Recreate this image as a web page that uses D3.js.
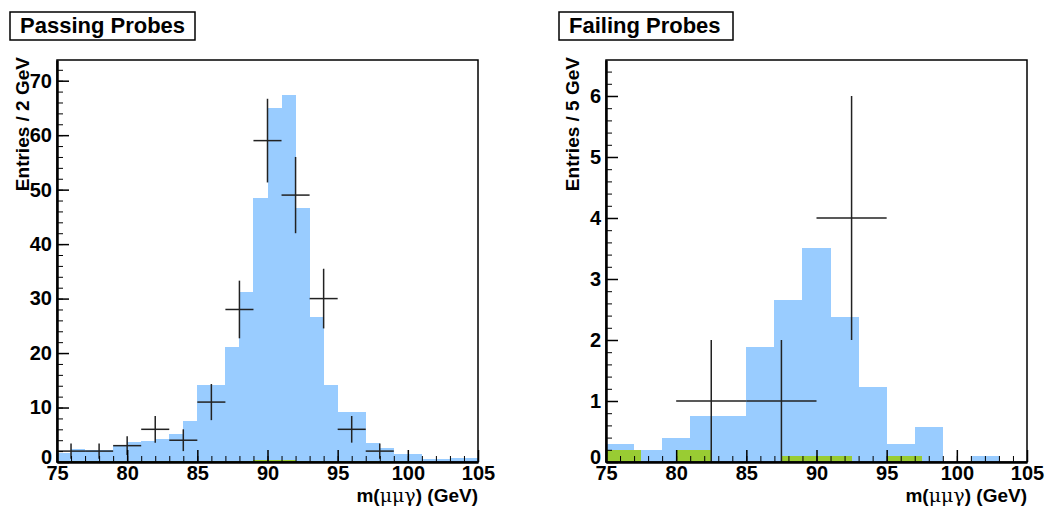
<!DOCTYPE html>
<html>
<head>
<meta charset="utf-8">
<script src="https://cdn.jsdelivr.net/npm/d3@7"></script>
<style>
  body { margin: 0; background: #fff; }
  svg text { font-family: "Liberation Sans", Arial, Helvetica, sans-serif; font-weight: bold; fill: #000; }
</style>
</head>
<body>
<div id="chart"></div>
<script>
// passing probes: MC in 1 GeV bins starting at 75
var passMC = [1.7, 2.4, 2.2, 2.2, 3.0, 3.6, 3.8, 4.3, 5.2, 7.5,
              14.2, 14.2, 21.1, 31.2, 48.5, 65, 67.4, 46.6, 26.6, 14.2,
              9.1, 9.1, 3.4, 2.6, 1.4, 1.4, 0.6, 0.6, 0.8, 0.8];
var passBkg = [0.25, 0.25, 0.25, 0.25, 0.25, 0.25, 0.25, 0.25, 0.25, 0.25,
               0.25, 0.25, 0.25, 0.25, 0.45, 0.45, 0.45, 0.25, 0.25, 0.25,
               0.25, 0.25, 0.25, 0.25, 0.25, 0.25, 0, 0, 0, 0];
var passDataX = [76, 78, 80, 82, 84, 86, 88, 90, 92, 94, 96, 98];
var passDataY = [2, 2, 3, 6, 4, 11, 28, 59, 49, 30, 6, 2];

// failing probes: MC in 2 GeV bins, background in 2.5 GeV bins
var failMC = [0.29, 0.2, 0.39, 0.76, 0.76, 1.89, 2.66, 3.51, 2.37, 1.23, 0.29, 0.58, 0, 0.1, 0];
var failBkg = [0.2, 0, 0.2, 0, 0, 0.1, 0.1, 0, 0.1, 0, 0, 0];
var failDataX = [82.5, 87.5, 92.5];
var failDataY = [1, 1, 4];

var xTicks = [75, 80, 85, 90, 95, 100, 105];

var W = 1047, H = 509;
var svg = d3.select("#chart").append("svg")
    .attr("width", W)
    .attr("height", H);

function drawPanel(p) {
    var x = d3.scaleLinear().domain([75, 105]).range([p.left, p.right]);
    var y = d3.scaleLinear().domain([0, p.ymax]).range([p.bottom, p.top]);
    var g = svg.append("g");

    // title box
    g.append("rect")
        .attr("x", p.boxX).attr("y", 12)
        .attr("width", p.boxW).attr("height", 28)
        .attr("fill", "#fff").attr("stroke", "#000").attr("stroke-width", 1.5);
    g.append("text")
        .attr("x", p.boxX + 10).attr("y", 33)
        .style("font-size", "22px")
        .text(p.title);

    // step histograms
    function stepArea(vals, width, color) {
        var pts = vals.map(function (v, i) { return [75 + i * width, v]; });
        pts.push([75 + vals.length * width, vals[vals.length - 1]]);
        var area = d3.area()
            .curve(d3.curveStepAfter)
            .x(function (d) { return x(d[0]); })
            .y0(y(0))
            .y1(function (d) { return y(d[1]); });
        g.append("path")
            .datum(pts)
            .attr("d", area)
            .attr("fill", color)
            .attr("shape-rendering", "crispEdges");
    }
    stepArea(p.mc, p.mcWidth, "#99ccff");
    stepArea(p.bkg, p.bkgWidth, "#99cc33");

    // data crosses
    var half = p.dataWidth / 2;
    p.dataX.forEach(function (cx, i) {
        var v = p.dataY[i], e = Math.sqrt(v);
        g.append("line")
            .attr("x1", x(cx - half)).attr("x2", x(cx + half))
            .attr("y1", y(v)).attr("y2", y(v))
            .attr("stroke", "#222").attr("stroke-width", 1.5);
        g.append("line")
            .attr("x1", x(cx)).attr("x2", x(cx))
            .attr("y1", y(Math.max(0, v - e))).attr("y2", y(v + e))
            .attr("stroke", "#222").attr("stroke-width", 1.5);
    });

    // frame
    g.append("rect")
        .attr("x", p.left).attr("y", p.top)
        .attr("width", p.right - p.left).attr("height", p.bottom - p.top)
        .attr("fill", "none").attr("stroke", "#000").attr("stroke-width", 1.5);

    // x axis: major + minor ticks pointing inward
    var xMinor = d3.range(75, 106, 1);
    g.append("g")
        .attr("transform", "translate(0," + p.bottom + ")")
        .call(d3.axisBottom(x).tickValues(xMinor).tickSize(-6).tickFormat(""))
        .call(function (a) { a.select(".domain").remove(); });
    var xa = g.append("g")
        .attr("transform", "translate(0," + p.bottom + ")")
        .call(d3.axisBottom(x).tickValues(xTicks).tickSize(-12).tickPadding(4).tickSizeOuter(0));
    xa.select(".domain").attr("stroke-width", 2.5);
    xa.selectAll("text").style("font-size", "20px");
    xa.selectAll("line").attr("stroke-width", 1.5);

    // y axis
    g.append("g")
        .attr("transform", "translate(" + p.left + ",0)")
        .call(d3.axisLeft(y).tickValues(p.yMinor).tickSize(-6).tickFormat(""))
        .call(function (a) { a.select(".domain").remove(); });
    var ya = g.append("g")
        .attr("transform", "translate(" + p.left + ",0)")
        .call(d3.axisLeft(y).tickValues(p.yMajor).tickSize(-12).tickPadding(5)
            .tickSizeOuter(0).tickFormat(d3.format("d")));
    ya.select(".domain").attr("stroke-width", 2.5);
    ya.selectAll("text").style("font-size", "20px");
    ya.selectAll("line").attr("stroke-width", 1.5);
    // lift the zero label a little so it sits clear of the first x label
    ya.selectAll(".tick").filter(function (d) { return d === 0; })
        .select("text").attr("dy", "0.05em");
    g.selectAll(".tick line").attr("stroke", "#000");

    // axis titles
    g.append("text")
        .attr("transform", "translate(" + p.yTitleX + "," + (p.top - 3) + ") rotate(-90)")
        .attr("text-anchor", "end")
        .style("font-size", "19px")
        .text(p.yTitle);
    var xt = g.append("text")
        .attr("x", p.right).attr("y", 502)
        .attr("text-anchor", "end")
        .style("font-size", "19px");
    xt.append("tspan").text("m(");
    xt.append("tspan").style("font-weight", "normal").style("font-family", "'DejaVu Serif', serif").text("μμγ");
    xt.append("tspan").text(") (GeV)");
}

drawPanel({
    title: "Passing Probes", boxX: 10, boxW: 185,
    left: 57, right: 478, top: 60, bottom: 462, ymax: 73.8,
    mc: passMC, mcWidth: 1, bkg: passBkg, bkgWidth: 1,
    dataX: passDataX, dataY: passDataY, dataWidth: 2,
    yMajor: d3.range(0, 71, 10), yMinor: d3.range(0, 73, 2),
    yTitle: "Entries / 2 GeV", yTitleX: 29
});

drawPanel({
    title: "Failing Probes", boxX: 559, boxW: 174,
    left: 606, right: 1027, top: 60, bottom: 462, ymax: 6.59,
    mc: failMC, mcWidth: 2, bkg: failBkg, bkgWidth: 2.5,
    dataX: failDataX, dataY: failDataY, dataWidth: 5,
    yMajor: d3.range(0, 7, 1), yMinor: d3.range(0, 6.6, 0.2),
    yTitle: "Entries / 5 GeV", yTitleX: 579
});
</script>
</body>
</html>
